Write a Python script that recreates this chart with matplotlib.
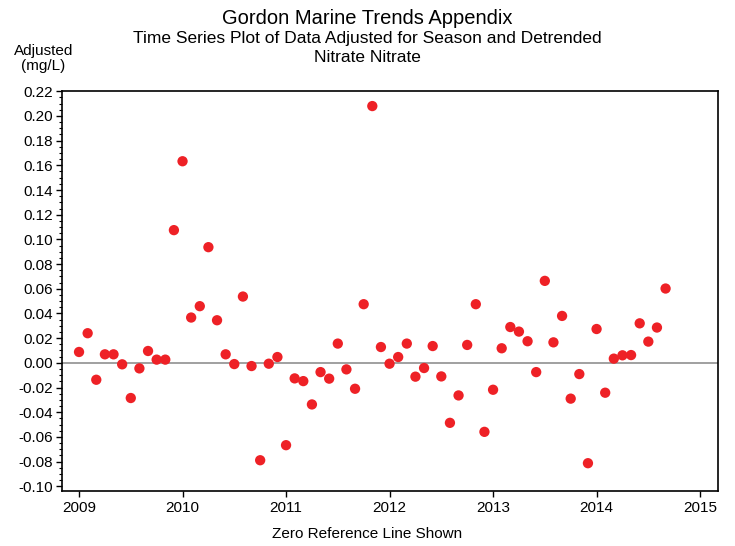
import numpy as np
import pandas as pd
import matplotlib
matplotlib.use("Agg")
import matplotlib.pyplot as plt
from matplotlib.ticker import MultipleLocator, FuncFormatter

plt.rcParams["font.family"] = ["Liberation Sans", "DejaVu Sans"]

# Monthly samples, Jan 2009 - Sep 2014
months = pd.date_range("2009-01-01", "2014-09-01", freq="MS")

# Adjusted (season + detrended) nitrate, mg/L
adjusted = [
    0.0088, 0.0240, -0.0137, 0.0069, 0.0069, -0.0012, -0.0285, -0.0045,
    0.0096, 0.0026, 0.0026, 0.1075, 0.1633, 0.0367, 0.0459, 0.0937,
    0.0345, 0.0069, -0.0010, 0.0537, -0.0026, -0.0789, -0.0007, 0.0047,
    -0.0667, -0.0126, -0.0148, -0.0337, -0.0075, -0.0128, 0.0156, -0.0053,
    -0.0210, 0.0475, 0.2080, 0.0128, -0.0007, 0.0047, 0.0156, -0.0112,
    -0.0042, 0.0136, -0.0110, -0.0486, -0.0264, 0.0145, 0.0475, -0.0559,
    -0.0218, 0.0118, 0.0290, 0.0253, 0.0175, -0.0075, 0.0664, 0.0166,
    0.0380, -0.0290, -0.0091, -0.0813, 0.0274, -0.0242, 0.0034, 0.0061,
    0.0063, 0.0320, 0.0172, 0.0286, 0.0602,
]

year_ticks = [2009, 2010, 2011, 2012, 2013, 2014, 2015]

# decimal years for plotting
t = months.year + (months.month - 1) / 12.0


def fmt_y(v, pos):
    if abs(v) < 1e-9:
        return "0.00"
    return f"{v:.2f}"


fig = plt.figure(figsize=(7.35, 5.46), dpi=100)
ax = fig.add_axes([0.084, 0.101, 0.893, 0.733])

ax.axhline(0.0, color="#999999", lw=1.3, zorder=1)
ax.scatter(t, adjusted, s=55, color="#EE2126", edgecolors="none", zorder=3)

ax.set_xlim(2008.833, 2015.174)
ax.set_ylim(-0.1037, 0.2205)
ax.set_xticks(year_ticks)
ax.set_xticklabels([str(y) for y in year_ticks])
ax.yaxis.set_major_locator(MultipleLocator(0.02))
ax.yaxis.set_minor_locator(MultipleLocator(0.005))
ax.yaxis.set_major_formatter(FuncFormatter(fmt_y))

ax.tick_params(axis="both", which="major", direction="out", length=4,
               width=1, labelsize=11, colors="black")
ax.tick_params(axis="y", which="minor", direction="out", length=2, width=0.8)
ax.tick_params(axis="y", pad=2)
for s in ax.spines.values():
    s.set_linewidth(1.2)
    s.set_color("black")

fig.text(0.5, 0.022, "Zero Reference Line Shown", ha="center", va="center",
         fontsize=11)

fig.text(0.5, 0.966, "Gordon Marine Trends Appendix", ha="center", va="center",
         fontsize=14.5)
fig.text(0.5, 0.930, "Time Series Plot of Data Adjusted for Season and Detrended",
         ha="center", va="center", fontsize=12.5)
fig.text(0.5, 0.895, "Nitrate Nitrate", ha="center", va="center", fontsize=12.5)
fig.text(0.059, 0.893, "Adjusted\n(mg/L)", ha="center", va="center",
         fontsize=11, linespacing=1.1)

fig.savefig("out.png", dpi=100)
